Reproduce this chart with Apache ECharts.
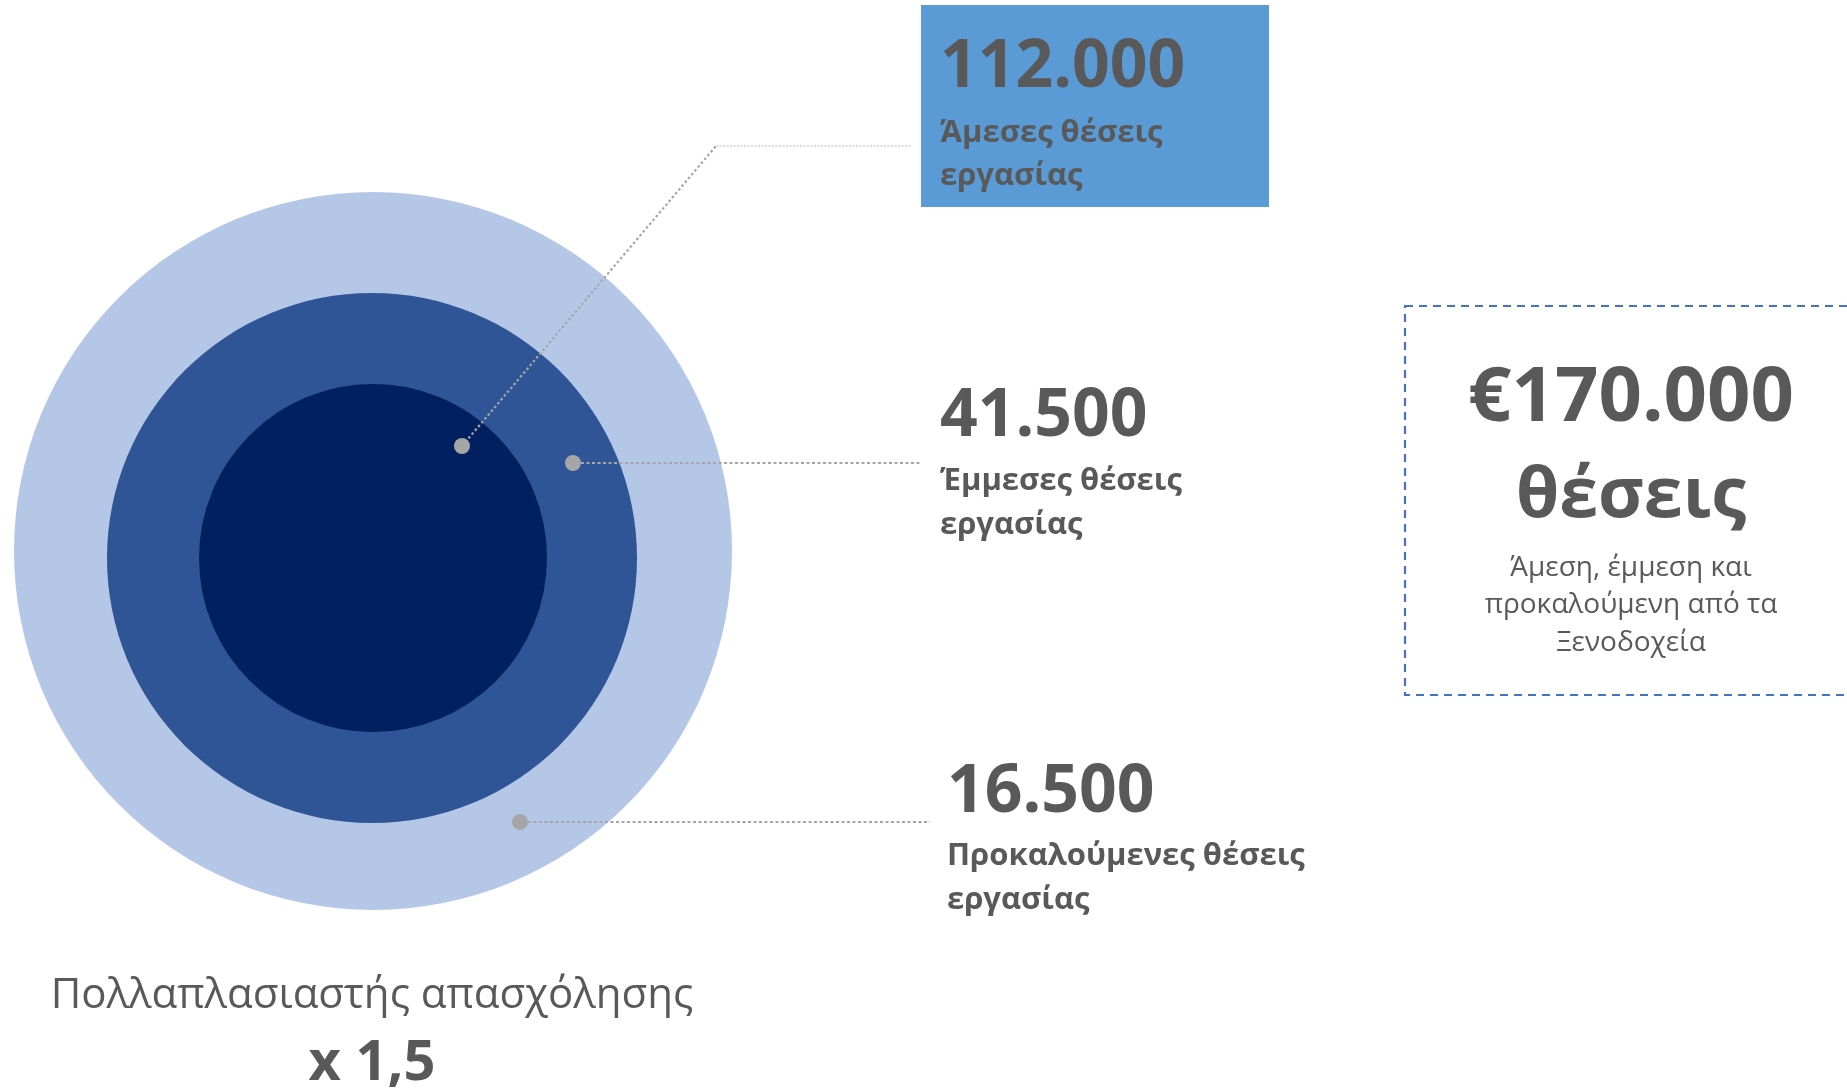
<!DOCTYPE html>
<html>
<head>
<meta charset="utf-8">
<script src="https://cdn.jsdelivr.net/npm/echarts@6/dist/echarts.min.js"></script>
<style>
html,body{margin:0;padding:0;background:#ffffff;}
#chart{width:1847px;height:1090px;}
</style>
</head>
<body>
<div id="chart"></div>
<script>
// ---- data ----
const categories = ['Άμεσες θέσεις εργασίας', 'Έμμεσες θέσεις εργασίας', 'Προκαλούμενες θέσεις εργασίας'];
const values = [112000, 41500, 16500];
const totalJobs = 170000;
const totalUnit = 'θέσεις';
const totalNoteLines = ['Άμεση, έμμεση και', 'προκαλούμενη από τα', 'Ξενοδοχεία'];
const multiplierLabel = 'Πολλαπλασιαστής απασχόλησης';
const multiplier = 1.5;

// ---- layout / style ----
const FONT = "'Open Sans', 'Noto Sans', sans-serif";
const TEXT = '#595959';
const ringColors = ['#002060', '#2F5597', '#B4C7E7'];
const ringLayout = [
  {center: [373, 558], r: 174},
  {center: [372, 558], r: 265},
  {center: [373, 551], r: 359}
];
const anchors = [[462, 446], [573, 463], [520, 822]];
const labelPos = [
  {x: 940, numY: 68, l1: 133, l2: 176, lineEnd: 912, elbow: [716, 146]},
  {x: 940, numY: 417, l1: 481, l2: 525, lineEnd: 921},
  {x: 947, numY: 793, l1: 856, l2: 900, lineEnd: 930}
];

function fmt(v) { return String(v).replace(/\B(?=(\d{3})+(?!\d))/g, '.'); }
function splitLabel(s) { const i = s.lastIndexOf(' '); return [s.slice(0, i), s.slice(i + 1)]; }

function txt(text, x, y, size, weight, align) {
  return {
    type: 'text', z: 100,
    style: {
      text: text, x: x, y: y,
      fontSize: size, fontWeight: weight, fontFamily: FONT,
      fill: TEXT, align: align, textAlign: align,
      verticalAlign: 'middle', textVerticalAlign: 'middle'
    }
  };
}

const series = [];
for (let i = categories.length - 1; i >= 0; i--) {
  series.push({
    type: 'pie',
    silent: true,
    center: ringLayout[i].center,
    radius: [0, ringLayout[i].r],
    label: {show: false},
    labelLine: {show: false},
    itemStyle: {color: ringColors[i], borderWidth: 0},
    emphasis: {disabled: true},
    data: [{name: categories[i], value: values[i]}]
  });
}

const graphic = [];
// highlighted box behind first label
graphic.push({type: 'rect', z: 90, shape: {x: 921, y: 5, width: 348, height: 202}, style: {fill: '#5B9BD5'}});
// leader lines
graphic.push({type: 'line', z: 95, shape: {x1: anchors[0][0], y1: anchors[0][1], x2: labelPos[0].elbow[0], y2: labelPos[0].elbow[1]},
  style: {stroke: '#A6A6A6', lineWidth: 2.2, lineDash: [2.5, 2.5]}});
graphic.push({type: 'line', z: 95, shape: {x1: labelPos[0].elbow[0], y1: labelPos[0].elbow[1], x2: labelPos[0].lineEnd, y2: labelPos[0].elbow[1]},
  style: {stroke: '#B8B8B8', lineWidth: 1.2, lineDash: [2, 1.5]}});
for (let i = 1; i < 3; i++) {
  graphic.push({type: 'line', z: 95, shape: {x1: anchors[i][0] + 8, y1: anchors[i][1], x2: labelPos[i].lineEnd, y2: anchors[i][1]},
    style: {stroke: '#A6A6A6', lineWidth: 2.2, lineDash: [3, 2.5]}});
}
anchors.forEach(function (a) {
  graphic.push({type: 'circle', z: 96, shape: {cx: a[0], cy: a[1], r: 8}, style: {fill: '#A6A6A6'}});
});
// labels
categories.forEach(function (c, i) {
  const p = labelPos[i];
  const parts = splitLabel(c);
  graphic.push(txt(fmt(values[i]), p.x, p.numY, 66, 'bold', 'left'));
  graphic.push(txt(parts[0], p.x, p.l1, 31, 'bold', 'left'));
  graphic.push(txt(parts[1], p.x, p.l2, 31, 'bold', 'left'));
});
// total box
graphic.push({type: 'rect', z: 90, shape: {x: 1405, y: 306, width: 480, height: 389},
  style: {fill: 'none', stroke: '#4472C4', lineWidth: 2.2, lineDash: [8, 6]}});
graphic.push(txt('€' + fmt(totalJobs), 1631, 399, 76, 'bold', 'center'));
graphic.push(txt(totalUnit, 1631, 497, 70, 'bold', 'center'));
totalNoteLines.forEach(function (l, i) {
  graphic.push(txt(l, 1631, 568 + i * 37.5, 28, 'normal', 'center'));
});
// multiplier
graphic.push(txt(multiplierLabel, 372, 996, 42, 'normal', 'center'));
graphic.push(txt('x ' + String(multiplier).replace('.', ','), 372, 1064, 56, 'bold', 'center'));

const chart = echarts.init(document.getElementById('chart'), null, {renderer: 'canvas'});
chart.setOption({
  animation: false,
  backgroundColor: '#ffffff',
  series: series,
  graphic: graphic
});
</script>
</body>
</html>
